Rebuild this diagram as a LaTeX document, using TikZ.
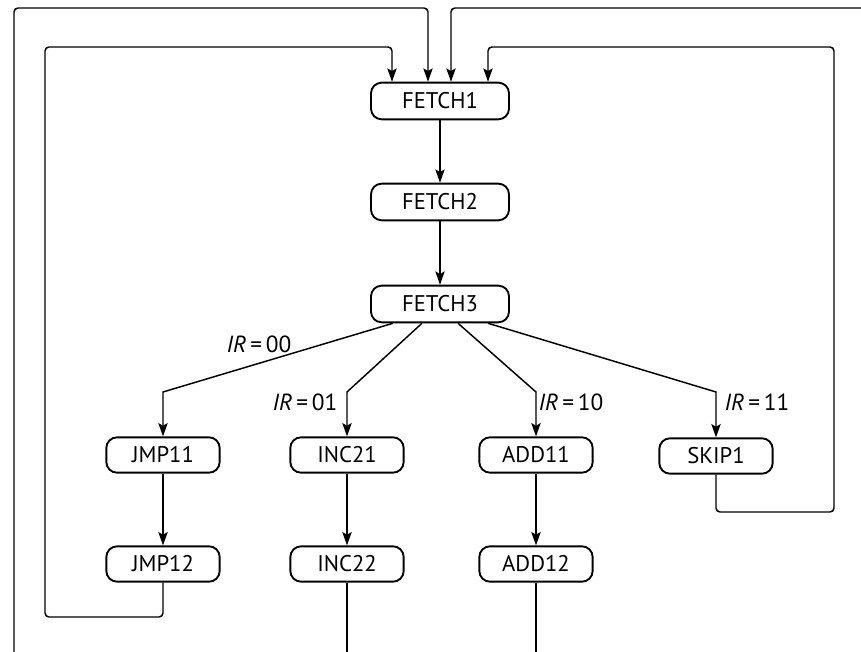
\documentclass[tikz,border=0pt]{standalone}
\usepackage{fontspec}
\setmainfont{PT Sans}
\usetikzlibrary{arrows.meta}

\begin{document}
\begin{tikzpicture}[x=0.75pt, y=-0.75pt, >={Stealth[length=10pt,width=7pt,inset=2pt]},
    state/.style={draw, line width=1.4pt, rounded corners=8pt, minimum width=85pt,
      minimum height=26.5pt, inner sep=0pt, font=\fontsize{17}{20}\selectfont},
    fetchstate/.style={state, minimum width=103.5pt, minimum height=27.5pt},
    flow/.style={->, line width=1.1pt},
    loopback/.style={flow, rounded corners=3pt},
    cond/.style={font=\fontsize{17.5}{20}\selectfont, inner sep=0pt}]
    \useasboundingbox (0,0) rectangle (861,652);
    % fetch cycle
    \node[fetchstate] (fetch1) at (440,101) {FETCH1};
    \node[fetchstate] (fetch2) at (440,202) {FETCH2};
    \node[fetchstate] (fetch3) at (440,304) {FETCH3};
    \draw[flow] (fetch1) -- (fetch2);
    \draw[flow] (fetch2) -- (fetch3);
    % execute states
    \node[state] (jmp11) at (163,455) {JMP11};
    \node[state] (inc21) at (347,455) {INC21};
    \node[state] (add11) at (536,455) {ADD11};
    \node[state] (skip1) at (716,456) {SKIP1};
    \node[state] (jmp12) at (163,564) {JMP12};
    \node[state] (inc22) at (347,564) {INC22};
    \node[state] (add12) at (536,564) {ADD12};
    \draw[flow] (jmp11) -- (jmp12);
    \draw[flow] (inc21) -- (inc22);
    \draw[flow] (add11) -- (add12);
    % decode branches
    \coordinate (k00) at (163,392);
    \coordinate (k01) at (347,392);
    \coordinate (k10) at (536,392);
    \coordinate (k11) at (716,392);
    \draw[flow] ([xshift=-35.25pt]fetch3.south) -- (k00) -- (jmp11);
    \draw[flow] ([xshift=-13.5pt]fetch3.south) -- (k01) -- (inc21);
    \draw[flow] ([xshift=13.5pt]fetch3.south) -- (k10) -- (add11);
    \draw[flow] ([xshift=36pt]fetch3.south) -- (k11) -- (skip1);
    \node[cond] (c00) at (259,344) {\textit{IR}\thinspace=\thinspace00};
    \node[cond] (c01) at (305,402) {\textit{IR}\thinspace=\thinspace01};
    \node[cond] (c10) at (571,402) {\textit{IR}\thinspace=\thinspace10};
    \node[cond] (c11) at (757,402) {\textit{IR}\thinspace=\thinspace11};
    % back to fetch
    \coordinate (top1) at (392,47);
    \coordinate (top2) at (428,8);
    \coordinate (top3) at (451,8);
    \coordinate (top4) at (488,47);
    \coordinate (outL) at (14,652);
    \coordinate (outR) at (861,8);
    \coordinate (endI) at (347,652);
    \coordinate (endA) at (536,652);
    \draw[loopback] (jmp12.south) |- (45,617) |- (top1) -- (top1 |- fetch1.north);
    \draw[loopback] (outL) |- (top2) -- (top2 |- fetch1.north);
    \draw[loopback] (outR) -- (top3) -- (top3 |- fetch1.north);
    \draw[loopback] (skip1.south) |- (834,512) |- (top4) -- (top4 |- fetch1.north);
    \draw[line width=1.1pt] (inc22.south) -- (endI);
    \draw[line width=1.1pt] (add12.south) -- (endA);
\end{tikzpicture}
\end{document}
